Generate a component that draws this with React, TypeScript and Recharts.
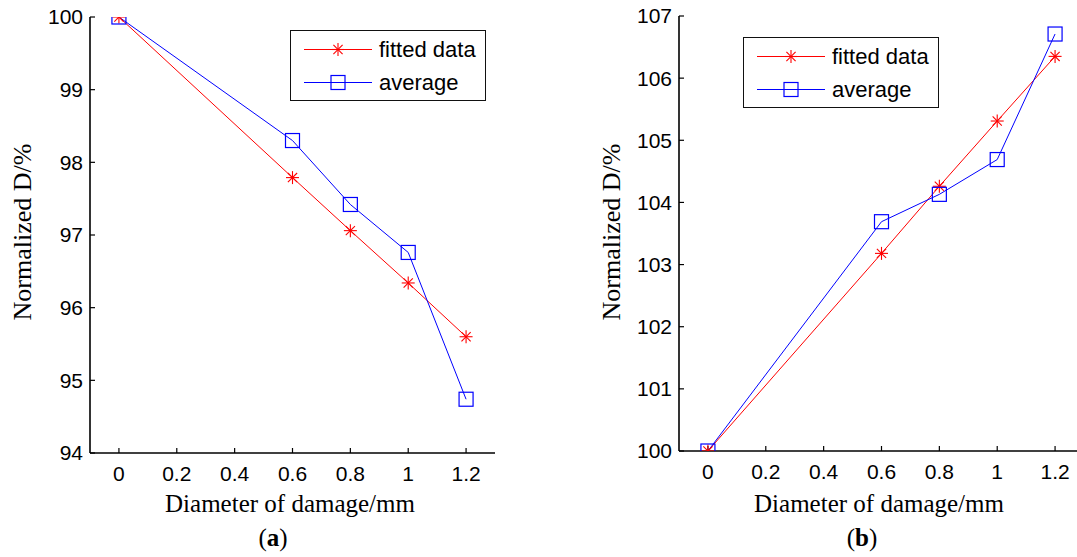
import React from 'react';
import { LineChart, Line, XAxis, YAxis } from 'recharts';

// ---- data ----
const diameters = [0, 0.6, 0.8, 1.0, 1.2];
const fittedA = [100, 97.79, 97.06, 96.34, 95.6];
const averageA = [100, 98.3, 97.42, 96.76, 94.74];
const fittedB = [100, 103.18, 104.26, 105.31, 106.35];
const averageB = [100, 103.69, 104.13, 104.69, 106.71];
const xTicks = [0, 0.2, 0.4, 0.6, 0.8, 1, 1.2];
const yTicksA = [94, 95, 96, 97, 98, 99, 100];
const yTicksB = [100, 101, 102, 103, 104, 105, 106, 107];
const seriesLabels = ['fitted data', 'average'];
const xTitle = 'Diameter of damage/mm';
const yTitle = 'Normalized D/%';

const RED = '#ff0000';
const BLUE = '#0000ff';
const SANS = '"Liberation Sans", Arial, Helvetica, sans-serif';
const SERIF = '"Liberation Serif", "Times New Roman", serif';
const TICK_FS = 21;
const AXIS_W = 1.6;

const Star = ({ cx, cy, color = RED, r = 6.5 }: any) => {
  const d = r * 0.707;
  return (
    <g stroke={color} strokeWidth={1.1} fill="none">
      <line x1={cx - r} y1={cy} x2={cx + r} y2={cy} />
      <line x1={cx} y1={cy - r} x2={cx} y2={cy + r} />
      <line x1={cx - d} y1={cy - d} x2={cx + d} y2={cy + d} />
      <line x1={cx - d} y1={cy + d} x2={cx + d} y2={cy - d} />
    </g>
  );
};

const Square = ({ cx, cy, color = BLUE, r = 7 }: any) => (
  <rect x={cx - r} y={cy - r} width={2 * r} height={2 * r} fill="none" stroke={color} strokeWidth={1.2} />
);

const buildRows = (f: number[], a: number[]) =>
  diameters.map((x, i) => ({ x, fitted: f[i], average: a[i] }));

const Legend = ({ left, top }: { left: number; top: number }) => {
  const rowH = 33;
  return (
    <div
      style={{
        position: 'absolute',
        left,
        top,
        width: 196,
        height: 71,
        boxSizing: 'border-box',
        border: '1.6px solid #111',
        background: '#fff',
        fontFamily: SANS,
        fontSize: 22,
        color: '#000',
      }}
    >
      {seriesLabels.map((name, i) => (
        <div
          key={name}
          style={{ position: 'absolute', left: 0, top: 2 + i * rowH, height: rowH, display: 'flex', alignItems: 'center' }}
        >
          <svg width={88} height={rowH} style={{ display: 'block' }}>
            <line x1={13} y1={rowH / 2} x2={81} y2={rowH / 2} stroke={i === 0 ? RED : BLUE} strokeWidth={1} />
            {i === 0 ? <Star cx={47} cy={rowH / 2} /> : <Square cx={47} cy={rowH / 2} />}
          </svg>
          <span style={{ whiteSpace: 'nowrap', lineHeight: 1 }}>{name}</span>
        </div>
      ))}
    </div>
  );
};

const Panel = ({
  left,
  width,
  margin,
  rows,
  yDomain,
  yTicks,
}: any) => (
  <div style={{ position: 'absolute', left, top: 0 }}>
    <LineChart width={width} height={557} data={rows} margin={margin}>
      <XAxis
        xAxisId="bottom"
        dataKey="x"
        type="number"
        domain={[-0.1, 1.3]}
        ticks={xTicks}
        allowDataOverflow
        height={30}
        tickSize={-5}
        tickMargin={18}
        stroke="#000"
        tick={{ fill: '#000', fontSize: TICK_FS, fontFamily: SANS }}
        tickLine={{ stroke: '#000', strokeWidth: 1.2 }}
        axisLine={{ stroke: '#000', strokeWidth: AXIS_W }}
      />
      <XAxis
        xAxisId="top"
        orientation="top"
        dataKey="x"
        type="number"
        domain={[-0.1, 1.3]}
        ticks={xTicks}
        allowDataOverflow
        height={0}
        tickSize={-5}
        tickFormatter={() => ''}
        stroke="#000"
        tickLine={{ stroke: '#000', strokeWidth: 1.2 }}
        axisLine={{ stroke: '#000', strokeWidth: AXIS_W }}
      />
      <YAxis
        yAxisId="left"
        type="number"
        domain={yDomain}
        ticks={yTicks}
        allowDataOverflow
        width={60}
        tickSize={-5}
        tickMargin={12}
        stroke="#000"
        tick={{ fill: '#000', fontSize: TICK_FS, fontFamily: SANS }}
        tickLine={{ stroke: '#000', strokeWidth: 1.2 }}
        axisLine={{ stroke: '#000', strokeWidth: AXIS_W }}
      />
      <YAxis
        yAxisId="right"
        orientation="right"
        type="number"
        domain={yDomain}
        ticks={yTicks}
        allowDataOverflow
        width={0}
        tickSize={-5}
        tickFormatter={() => ''}
        stroke="#000"
        tickLine={{ stroke: '#000', strokeWidth: 1.2 }}
        axisLine={{ stroke: '#000', strokeWidth: AXIS_W }}
      />
      <Line
        xAxisId="bottom"
        yAxisId="left"
        dataKey="fitted"
        name={seriesLabels[0]}
        stroke={RED}
        strokeWidth={1}
        isAnimationActive={false}
        dot={(p: any) => <Star key={`f-${p.index}`} cx={p.cx} cy={p.cy} />}
        activeDot={false}
      />
      <Line
        xAxisId="bottom"
        yAxisId="left"
        dataKey="average"
        name={seriesLabels[1]}
        stroke={BLUE}
        strokeWidth={1}
        isAnimationActive={false}
        dot={(p: any) => <Square key={`a-${p.index}`} cx={p.cx} cy={p.cy} />}
        activeDot={false}
      />
    </LineChart>
  </div>
);

export default function App() {
  const rowsA = buildRows(fittedA, averageA);
  const rowsB = buildRows(fittedB, averageB);
  return (
    <div
      style={{
        position: 'absolute',
        left: 0,
        top: 0,
        width: 1077,
        height: 557,
        overflow: 'hidden',
        background: '#fff',
      }}
    >
      <Panel
        left={0}
        width={540}
        margin={{ top: 17, right: 45, bottom: 74, left: 30 }}
        rows={rowsA}
        yDomain={[94, 100]}
        yTicks={yTicksA}
      />
      <Panel
        left={540}
        width={600}
        margin={{ top: 16, right: 56, bottom: 76, left: 79 }}
        rows={rowsB}
        yDomain={[100, 107]}
        yTicks={yTicksB}
      />
      <Legend left={290} top={30} />
      <Legend left={743} top={37} />
      <svg
        width={1077}
        height={557}
        style={{ position: 'absolute', left: 0, top: 0, pointerEvents: 'none' }}
      >
        <g fontFamily={SERIF} fill="#000">
          <text x={290} y={512} fontSize={25} textAnchor="middle">{xTitle}</text>
          <text x={879} y={512} fontSize={25} textAnchor="middle">{xTitle}</text>
          <text transform="translate(31,232) rotate(-90)" fontSize={26} textAnchor="middle">{yTitle}</text>
          <text transform="translate(620,232) rotate(-90)" fontSize={26} textAnchor="middle">{yTitle}</text>
          <text x={273} y={546} fontSize={25} textAnchor="middle">
            (<tspan fontWeight="bold">a</tspan>)
          </text>
          <text x={862} y={546} fontSize={25} textAnchor="middle">
            (<tspan fontWeight="bold">b</tspan>)
          </text>
        </g>
      </svg>
    </div>
  );
}
